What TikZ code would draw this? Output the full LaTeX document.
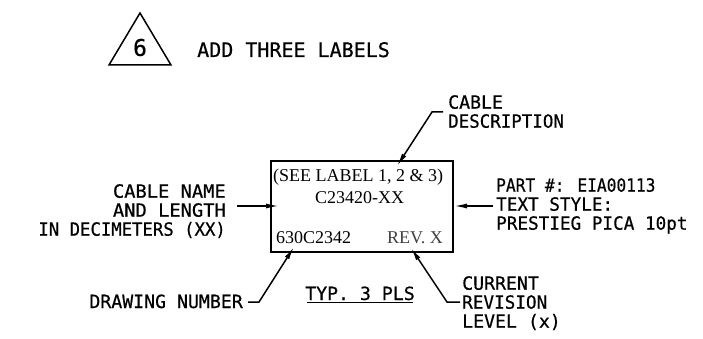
\documentclass[tikz,border=0pt]{standalone}
\usepackage{fontspec}
\newfontfamily\cadfont[FakeBold=0.5]{DejaVu Sans Mono}
\newfontfamily\boxfont{Liberation Serif}
\usetikzlibrary{arrows.meta}
\newcommand{\sxw}[2]{\scalebox{#1}[1]{#2}}
\tikzset{
  x=1pt,y=-1pt,
  note/.style={inner sep=0pt,font=\cadfont\fontsize{18.2}{19}\selectfont},
  boxtext/.style={inner sep=0pt,anchor=base west,font=\boxfont\fontsize{18}{19}\selectfont},
  leader/.style={line width=1.5pt,-{Latex[length=13pt,width=5pt]}},
}
\begin{document}
\begin{tikzpicture}
\useasboundingbox (0,0) rectangle (703,339);
\fill[white] (0,0) rectangle (703,339);
% triangle
\draw[line width=1.5pt,line join=miter] (140,13) -- (171,65) -- (109,65) -- cycle;
\node[inner sep=0pt,font=\cadfont\fontsize{23}{24}\selectfont] (six) at (140,47.5) {6};
\node[note,anchor=base west,font=\cadfont\fontsize{20}{20}\selectfont] (add) at (197,57) {ADD THREE LABELS};
% box
\node[draw,line width=1.6pt,minimum width=182pt,minimum height=91pt,inner sep=0pt,anchor=north west] (lbl) at (270,160) {};
\node[boxtext] (see) at (273,182) {(SEE LABEL 1, 2 \& 3)};
\node[boxtext] (part) at (315,203) {C23420-XX};
\node[boxtext] (dwg) at (276,243) {630C2342};
\node[boxtext,text=black!75] (rev) at (387,243) {REV. X};
% notes
\node[note,align=left,anchor=north west] (desc) at (448,95) {CABLE\\\sxw{.96}{DESCRIPTION}};
\node[note,align=right,anchor=north east] (cname) at (226,184) {\sxw{1.03}{CABLE NAME}\\\sxw{1.03}{AND LENGTH}\\\sxw{.95}{IN DECIMETERS (XX)}};
\node[note,align=left,anchor=north west] (pnum) at (496,178) {\sxw{.89}{PART \#: EIA00113}\\\sxw{.97}{TEXT STYLE:}\\\sxw{.97}{PRESTIEG PICA 10pt}};
\node[note,align=left,anchor=north west] (crl) at (462,276) {CURRENT\\\sxw{.97}{REVISION}\\LEVEL (x)};
\node[note,anchor=base east] (dn) at (243,308) {DRAWING NUMBER};
\node[note,anchor=base,inner sep=0pt] (typ) at (360,300) {TYP. 3 PLS};
\draw[line width=1.3pt] (307,302.5) -- (413,302.5);
% leader points
\coordinate (t1) at (397,166); \coordinate (b1) at (432,112); \coordinate (s1) at (443,112);
\coordinate (t2) at (279,206); \coordinate (s2) at (237,206);
\coordinate (t3) at (454,206); \coordinate (s3) at (493,206);
\coordinate (t4) at (294,247); \coordinate (b4) at (259,302); \coordinate (s4) at (248,302);
\coordinate (t5) at (411,248); \coordinate (b5) at (447,302); \coordinate (s5) at (460,302);
\draw[leader] (s1) -- (b1) -- (t1);
\draw[leader] (s2) -- (t2);
\draw[leader] (s3) -- (t3);
\draw[leader] (s4) -- (b4) -- (t4);
\draw[leader] (s5) -- (b5) -- (t5);
\end{tikzpicture}
\end{document}
